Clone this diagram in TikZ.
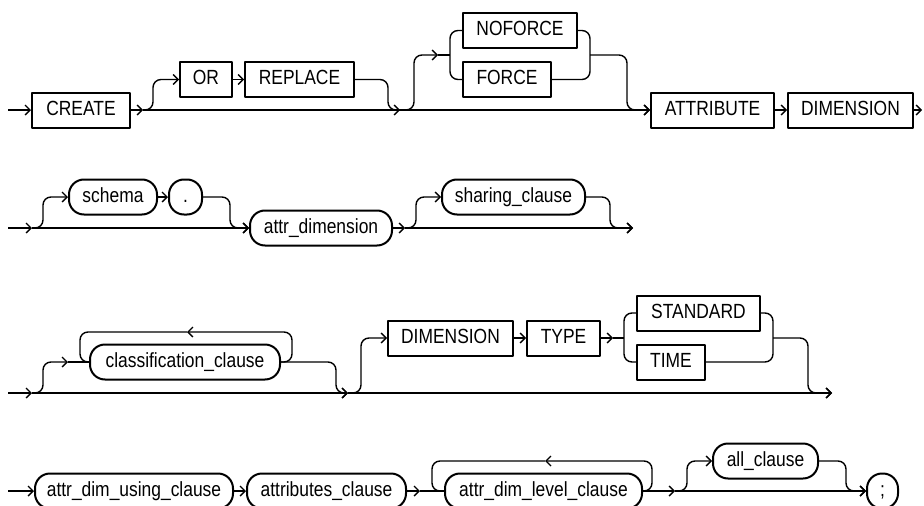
\documentclass[tikz,border=0pt]{standalone}
\usepackage{fontspec}
\setmainfont{Liberation Sans}[FakeStretch=0.85]
\usetikzlibrary{arrows.meta}

\begin{document}
\begin{tikzpicture}[x=1pt, y=-1pt, line join=round,
  rail/.style={line width=1.4pt},
  go/.style={rail, -{Straight Barb[length=5pt,width=10pt,line width=1.4pt]}},
  fork/.style={rail, rounded corners=8pt},
  kw/.style={draw, line width=2pt, rectangle, minimum height=35pt, inner xsep=2pt,
    text height=14pt, text depth=3.3pt, font=\fontsize{20.5}{23}\selectfont},
  nt/.style={kw, rounded corners=15pt}]
\useasboundingbox (0,0) rectangle (924,506);

\node[kw, minimum width=98] (create) at (81,110) {CREATE};
\node[kw, minimum width=52] (orkw) at (206,79.5) {OR};
\node[kw, minimum width=109] (replace) at (299.5,79.5) {REPLACE};
\node[kw, minimum width=114] (noforce) at (520,30.5) {NOFORCE};
\node[kw, minimum width=88] (force) at (507,79.5) {FORCE};
\node[kw, minimum width=123] (attribute) at (712.5,110) {ATTRIBUTE};
\node[kw, minimum width=125] (dimension) at (850.5,110) {DIMENSION};

\node[nt, minimum width=88] (schema) at (113,197) {schema};
\node[nt, minimum width=33] (dot) at (185.5,197) {.};
\node[nt, minimum width=142] (attrdim) at (321,228) {attr\_dimension};
\node[nt, minimum width=143] (sharing) at (513.5,197) {sharing\_clause};

\node[nt, minimum width=190] (classif) at (185,362) {classification\_clause};
\node[kw, minimum width=125] (dimtwo) at (450.5,338) {DIMENSION};
\node[kw, minimum width=73] (typekw) at (563.5,338) {TYPE};
\node[kw, minimum width=123] (standard) at (698.5,313) {STANDARD};
\node[kw, minimum width=68] (timekw) at (671,362) {TIME};

\node[nt, minimum width=198] (using) at (134,491) {attr\_dim\_using\_clause};
\node[nt, minimum width=159] (attrs) at (326.5,491) {attributes\_clause};
\node[nt, minimum width=197] (level) at (543.5,491) {attr\_dim\_level\_clause};
\node[nt, minimum width=105] (allcl) at (765.5,461) {all\_clause};
\node[nt, minimum width=31] (semi) at (882.5,491) {;};

\draw[go] (8,110) -- (create.west);
\draw[go] (create.east) -- (143,110);
\draw[go] (143,110) -- (attribute.west);
\draw[go, fork] (143,110) -| (153,79.5) -- (orkw.west);
\draw[go] (orkw.east) -- (replace.west);
\draw[go, fork] (replace.east) -| (388,110) -- (400,110);
\draw[go, fork] (400,110) -| (414,55) -- (438,55);
\draw[rail] (438,55) -- (450,55);
\draw[fork] (noforce.west) -| (450,55) |- (force.west);
\draw[fork] (noforce.east) -| (590,55) |- (force.east);
\draw[go, fork] (590,55) -| (627,110) -- (attribute.west);
\draw[go] (attribute.east) -- (dimension.west);
\draw[go] (dimension.east) -- (922,110);

\draw[go] (8,228) -- (32,228);
\draw[go] (32,228) -- (attrdim.west);
\draw[go, fork] (32,228) -| (43,197) -- (schema.west);
\draw[go] (schema.east) -- (dot.west);
\draw[go, fork] (dot.east) -| (230,228) -- (attrdim.west);
\draw[go] (attrdim.east) -- (405,228);
\draw[go] (405,228) -- (633,228);
\draw[go, fork] (405,228) -| (416,197) -- (sharing.west);
\draw[go, fork] (sharing.east) -| (610,228) -- (633,228);

\draw[go] (8,393) -- (32,393);
\draw[go] (32,393) -- (348,393);
\draw[go, fork] (32,393) -| (43,362) -- (68,362);
\draw[rail] (68,362) -- (classif.west);
\draw[go, fork] (classif.east) -- (292,362) |- (187,332);
\draw[fork] (187,332) -| (80,362) -- (classif.west);
\draw[go, fork] (classif.east) -| (336,393) -- (348,393);
\draw[go, fork] (348,393) -| (361,338) -- (dimtwo.west);
\draw[go] (dimtwo.east) -- (typekw.west);
\draw[go] (typekw.east) -- (613,338);
\draw[rail] (613,338) -- (624,338);
\draw[fork] (standard.west) -| (624,338) |- (timekw.west);
\draw[fork] (standard.east) -| (773,338) |- (timekw.east);
\draw[go, fork] (773,338) -| (808,393) -- (832,393);
\draw[go] (348,393) -- (832,393);

\draw[go] (8,491) -- (using.west);
\draw[go] (using.east) -- (attrs.west);
\draw[go] (attrs.east) -- (420,491);
\draw[rail] (420,491) -- (level.west);
\draw[go, fork] (level.east) -- (652,491) |- (545,461);
\draw[fork] (545,461) -| (432,491) -- (level.west);
\draw[go] (level.east) -- (675,491);
\draw[go] (675,491) -- (semi.west);
\draw[go, fork] (675,491) -| (687,461) -- (allcl.west);
\draw[go, fork] (allcl.east) -| (846,491) -- (semi.west);
\end{tikzpicture}
\end{document}
